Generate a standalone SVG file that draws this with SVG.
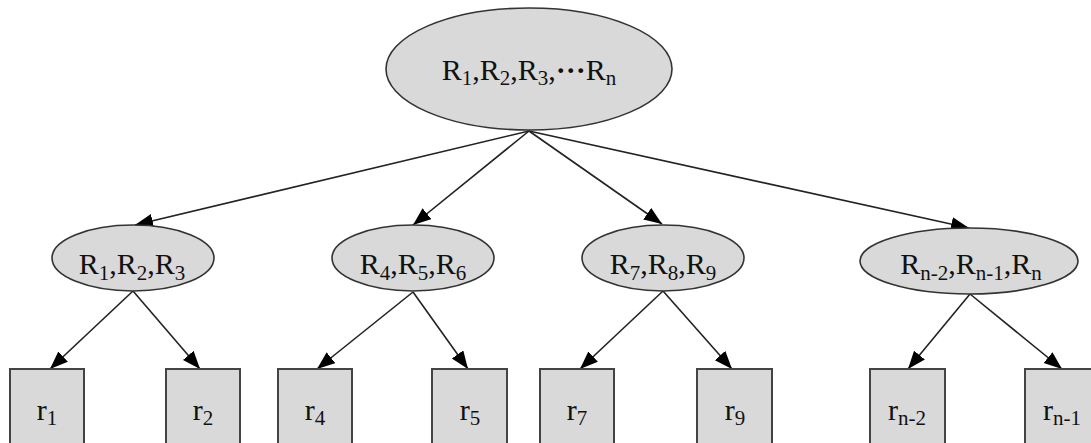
<svg xmlns="http://www.w3.org/2000/svg" width="1091" height="443" viewBox="0 0 1091 443">
<style>
.n{fill:#d9d9d9;stroke:#333;stroke-width:1.6}
.b{fill:#d9d9d9;stroke:#444;stroke-width:2}
.t{font-family:"Liberation Serif","Times New Roman",serif;font-size:30px;fill:#111;text-anchor:middle}
.s{font-size:21px}
.e{stroke:#222;stroke-width:1.6;fill:none;marker-end:url(#ah)}
</style>
<defs>
<marker id="ah" markerUnits="userSpaceOnUse" markerWidth="19" markerHeight="15" refX="18" refY="7" orient="auto">
<path d="M0,0 L18,7 L0,14 z" fill="#000"/>
</marker>
</defs>
<rect width="1091" height="443" fill="#fff"/>
<g id="connectors">
<line class="e" x1="529" y1="131" x2="135" y2="225"/>
<line class="e" x1="529" y1="131" x2="413" y2="225"/>
<line class="e" x1="529" y1="131" x2="662" y2="224"/>
<line class="e" x1="529" y1="131" x2="969" y2="228"/>
<line class="e" x1="133" y1="291" x2="50" y2="369"/>
<line class="e" x1="133" y1="291" x2="200" y2="369"/>
<line class="e" x1="413" y1="292" x2="317" y2="369"/>
<line class="e" x1="413" y1="292" x2="468" y2="369"/>
<line class="e" x1="663" y1="291" x2="580" y2="369"/>
<line class="e" x1="663" y1="291" x2="732" y2="369"/>
<line class="e" x1="970" y1="294" x2="908" y2="369"/>
<line class="e" x1="970" y1="294" x2="1062" y2="369"/>
</g>
<g id="root">
<ellipse class="n" cx="529" cy="69" rx="143" ry="61"/>
<text class="t" x="529" y="80">R<tspan class="s" dy="5">1</tspan><tspan dy="-5">,R</tspan><tspan class="s" dy="5">2</tspan><tspan dy="-5">,R</tspan><tspan class="s" dy="5">3</tspan><tspan dy="-5">,</tspan><tspan font-weight="bold">···</tspan>R<tspan class="s" dy="5">n</tspan></text>
</g>
<g id="g1">
<ellipse class="n" cx="133" cy="258" rx="81" ry="33"/>
<text class="t" x="132" y="274">R<tspan class="s" dy="6">1</tspan><tspan dy="-6">,R</tspan><tspan class="s" dy="6">2</tspan><tspan dy="-6">,R</tspan><tspan class="s" dy="6">3</tspan></text>
</g>
<g id="g2">
<ellipse class="n" cx="413" cy="258" rx="81" ry="33"/>
<text class="t" x="413" y="274">R<tspan class="s" dy="6">4</tspan><tspan dy="-6">,R</tspan><tspan class="s" dy="6">5</tspan><tspan dy="-6">,R</tspan><tspan class="s" dy="6">6</tspan></text>
</g>
<g id="g3">
<ellipse class="n" cx="663" cy="258" rx="81" ry="33"/>
<text class="t" x="663" y="274">R<tspan class="s" dy="6">7</tspan><tspan dy="-6">,R</tspan><tspan class="s" dy="6">8</tspan><tspan dy="-6">,R</tspan><tspan class="s" dy="6">9</tspan></text>
</g>
<g id="g4">
<ellipse class="n" cx="969" cy="261" rx="109" ry="33"/>
<text class="t" x="971" y="274">R<tspan class="s" dy="6">n-2</tspan><tspan dy="-6">,R</tspan><tspan class="s" dy="6">n-1</tspan><tspan dy="-6">,R</tspan><tspan class="s" dy="6">n</tspan></text>
</g>
<g id="r1"><rect class="b" x="10" y="369" width="74" height="80"/><text class="t" x="47" y="420">r<tspan class="s" dy="5">1</tspan></text></g>
<g id="r2"><rect class="b" x="166" y="369" width="74" height="80"/><text class="t" x="203" y="420">r<tspan class="s" dy="5">2</tspan></text></g>
<g id="r4"><rect class="b" x="278" y="369" width="74" height="80"/><text class="t" x="315" y="420">r<tspan class="s" dy="5">4</tspan></text></g>
<g id="r5"><rect class="b" x="432" y="369" width="75" height="80"/><text class="t" x="470" y="420">r<tspan class="s" dy="5">5</tspan></text></g>
<g id="r7"><rect class="b" x="540" y="369" width="74" height="80"/><text class="t" x="577" y="420">r<tspan class="s" dy="5">7</tspan></text></g>
<g id="r9"><rect class="b" x="697" y="369" width="75" height="80"/><text class="t" x="735" y="420">r<tspan class="s" dy="5">9</tspan></text></g>
<g id="rn2"><rect class="b" x="870" y="369" width="75" height="80"/><text class="t" x="907" y="420">r<tspan class="s" dy="5">n-2</tspan></text></g>
<g id="rn1"><rect class="b" x="1025" y="369" width="75" height="80"/><text class="t" x="1062" y="420">r<tspan class="s" dy="5">n-1</tspan></text></g>
</svg>
